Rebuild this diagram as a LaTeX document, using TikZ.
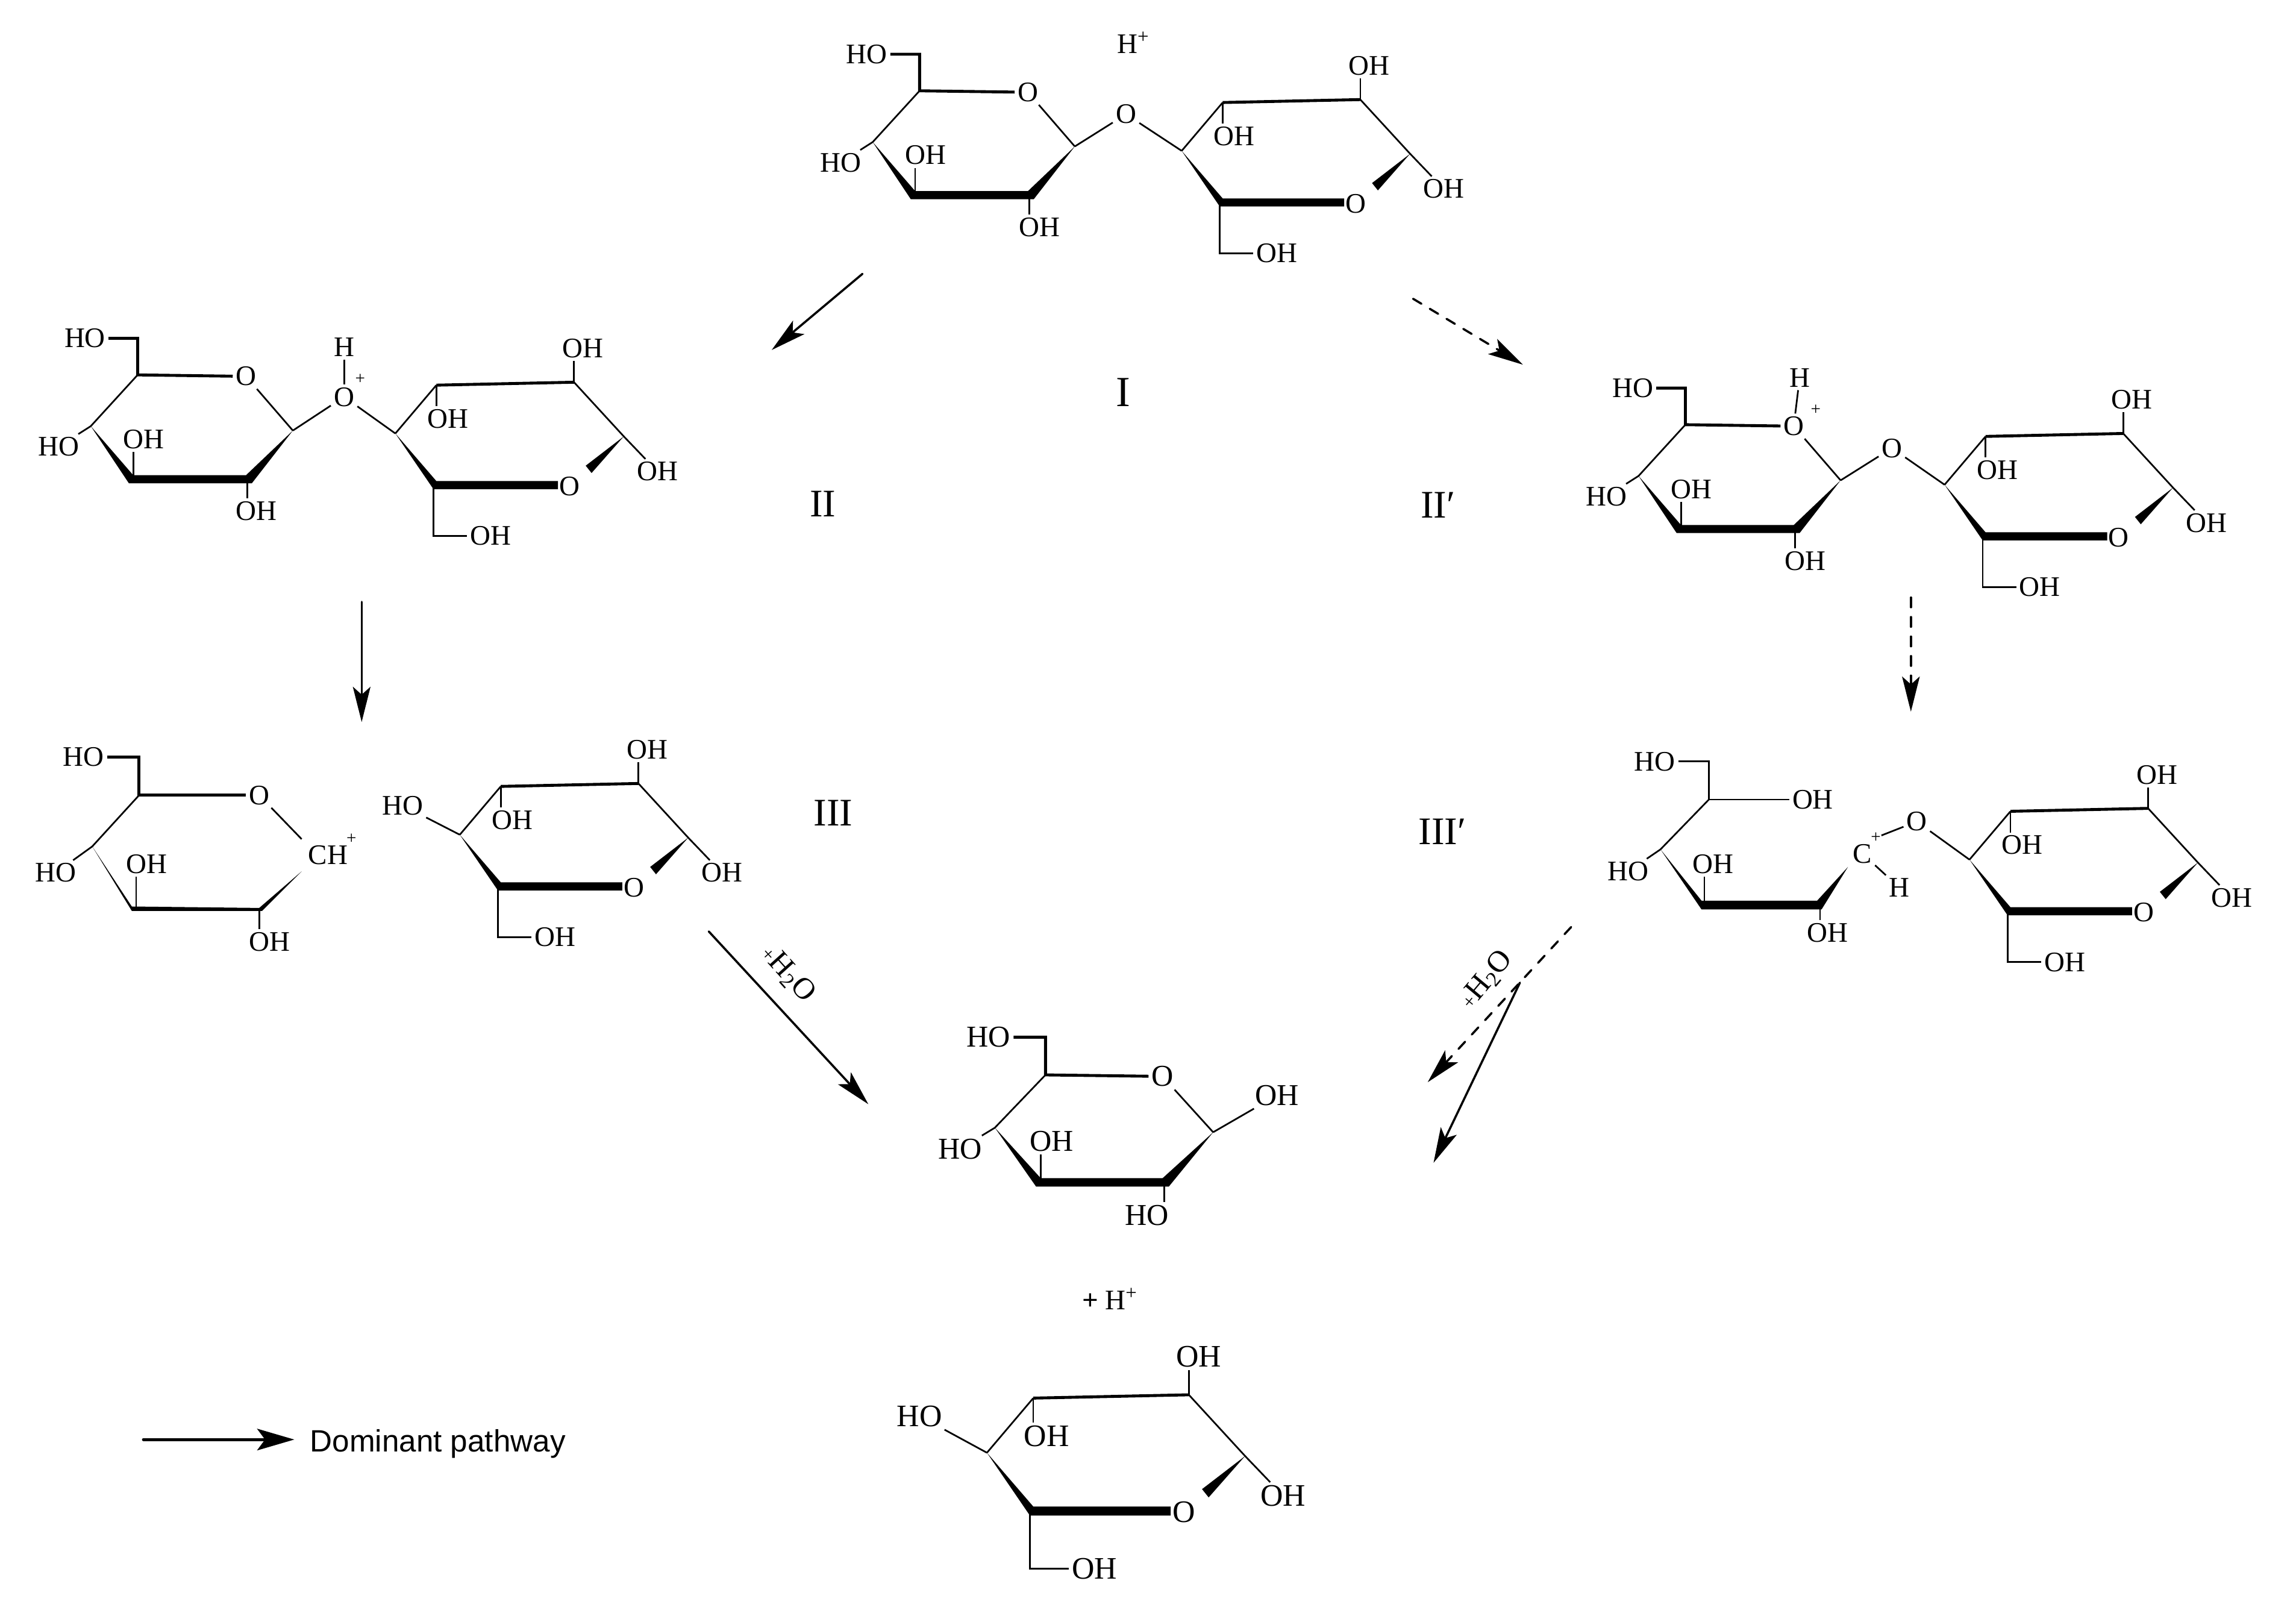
\documentclass[tikz,border=0pt]{standalone}
\usepackage{fontspec}
\setmainfont{Liberation Serif}
\newfontfamily\legendfont{Liberation Sans}
\usetikzlibrary{arrows.meta}

\tikzset{every picture/.style={line width=0.75pt}}
\tikzset{
	every pic/.style={yscale=-1},
	atom/.style={inner sep=1.2pt,font=\fontsize{14.5}{16}\selectfont},
	tag/.style={inner sep=0pt,font=\fontsize{20}{22}\selectfont},
	charge/.style={inner sep=0pt,font=\fontsize{9}{10}\selectfont},
	water/.style={inner sep=0pt,font=\fontsize{15.5}{17}\selectfont},
	bond/.style={line width=0.85pt},
	backbond/.style={line width=1.5pt},
	react/.style={line width=1.1pt,line cap=round,-{Stealth[length=18pt,width=9pt,inset=4pt]}},
	minor/.style={react,dash pattern=on 5pt off 5pt},
	%Ring with the exocyclic oxygen at its right, origin on the CH2OH carbon
	pics/leftring/.style 2 args={code={
		\coordinate (C5) at (0,0);
		\coordinate (C4) at (-32,35);
		\coordinate (C3) at (-3,72);
		\coordinate (C2) at (75,72);
		\coordinate (C1) at (106,38);
		\node [atom] (O) at (74,1) {O};
		\node [atom] (HOf) at (-36,-25) {HO};
		\node [atom] (HOd) at (-54,49) {HO};
		\node [atom] (OHc) at (4,44) {OH};
		\node [atom] (OHb) at (#2,93) {#1};
		\fill (C4) -- (-3,68.5) -- (74,68.5) -- (C1) -- (78,74) -- (-6,74) -- cycle;
		\draw [backbond] (HOf) -| (C5) -- (O);
		\draw [bond] (O) -- (C1) (C5) -- (C4) (C4) -- (HOd);
		\draw [bond] (C3) -- (C3 |- OHc.south);
		\draw [bond] (C2) -- (C2 |- OHb.north);
	}},
	%Ring with the exocyclic oxygen at its left, origin on the carbon that carries it
	pics/rightring/.style={code={
		\coordinate (C4) at (0,0);
		\coordinate (C3) at (28,-33);
		\coordinate (C2) at (122,-35);
		\coordinate (C1) at (156,2);
		\coordinate (C5) at (26,36);
		\node [atom] (O) at (119,36) {O};
		\node [atom] (OHb) at (128,-58) {OH};
		\node [atom] (OHc) at (36,-10) {OH};
		\node [atom] (OHa) at (179,26) {OH};
		\node [atom] (OHf) at (65,70) {OH};
		\fill (C4) -- (28,32.5) -- (111,32.5) -- (111,38) -- (26,38) -- cycle;
		\fill (C1) -- (130,22) -- (134,27) -- cycle;
		\draw [bond] (C4) -- (C3) (C2) -- (C1) (C1) -- (OHa);
		\draw [backbond] (C3) -- (C2);
		\draw [bond] (C2) -- (C2 |- OHb.south);
		\draw [bond] (C3) -- (C3 |- OHc.north);
		\draw [bond] (C5) |- (OHf);
	}}
}

\begin{document}
\begin{tikzpicture}[x=0.75pt,y=0.75pt,yscale=-1,xscale=1]
	\useasboundingbox (0,0) rectangle (1568,1107.2);

	%Molecule I
	\pic (Ia) at (628,62) {leftring={OH}{82}};
	\pic (Ib) at (807,103) {rightring};
	\node [atom] (Io) at (769,78) {O};
	\draw [bond] (IaC1) -- (Io) -- (IbC4);
	% Text Node
	\node [atom] (Iacid) at (774,29) {H\textsuperscript{+}};
	% Text Node
	\node [tag,font=\fontsize{22}{24}\selectfont] (Itag) at (767,268) {I};

	%Molecule II
	\pic (IIa) at (94,256) {leftring={OH}{81}};
	\pic (IIb) at (270,296) {rightring};
	\node [atom] (IIo) at (235,271) {O};
	\node [atom] (IIh) at (235,237) {H};
	\node [charge] (IIplus) at (246,259) {+};
	\draw [bond] (IIaC1) -- (IIo) -- (IIbC4);
	\draw [bond] (IIo) -- (IIh);
	% Text Node
	\node [tag] (IItag) at (562,344) {II};

	%Molecule II prime
	\pic (Pa) at (1151,290) {leftring={OH}{82}};
	\pic (Pb) at (1328,331) {rightring};
	\node [atom] (Po) at (1292,306) {O};
	\node [atom] (Ph) at (1229,258) {H};
	\node [charge] (Pplus) at (1240,280) {+};
	\draw [bond] (PaC1) -- (Po) -- (PbC4);
	\draw [bond] (PaO) -- (Ph);
	% Text Node
	\node [tag] (Ptag) at (982,345) {II′};

	%Molecule III, left part
	\coordinate (TaC5) at (95,543);
	\coordinate (TaC4) at (63,578);
	\coordinate (TaC3) at (93,620);
	\coordinate (TaC2) at (177,620);
	\coordinate (TaCa) at (206,573);
	\coordinate (TaCb) at (206,595);
	\node [atom] (TaO) at (177,543) {O};
	\node [atom] (TaHOf) at (57,517) {HO};
	\node [atom] (TaHOd) at (38,596) {HO};
	\node [atom] (TaOHc) at (100,590) {OH};
	\node [atom] (TaOHb) at (184,643) {OH};
	\node [atom] (TaCH) at (224,584) {CH};
	\node [charge] (TaPlus) at (240,573) {+};
	\fill (TaC4) -- (90,619) -- (TaC2) -- (TaCb) -- (179,622) -- (90,622) -- cycle;
	\draw [backbond] (TaHOf) -| (TaC5) -- (TaO);
	\draw [bond] (TaO) -- (TaCa) (TaC5) -- (TaC4) (TaC4) -- (TaHOd);
	\draw [bond] (TaC3) -- (TaC3 |- TaOHc.south);
	\draw [bond] (TaC2) -- (TaC2 |- TaOHb.north);

	%Molecule III, right part
	\pic (Tb) at (314,570) {rightring};
	\node [atom] (Tbhod) at (275,550) {HO};
	\draw [bond] (TbC4) -- (Tbhod);
	% Text Node
	\node [tag] (Ttag) at (569,555) {III};

	%Molecule III prime, left part
	\coordinate (QaC5) at (1167,546);
	\coordinate (QaC4) at (1134,580);
	\coordinate (QaC3) at (1164,618);
	\coordinate (QaC2) at (1243,618);
	\coordinate (QaCb) at (1262,592);
	\node [atom] (QaHOf) at (1130,520) {HO};
	\node [atom] (QaOHe) at (1238,546) {OH};
	\node [atom] (QaHOd) at (1112,595) {HO};
	\node [atom] (QaOHc) at (1170,590) {OH};
	\node [atom] (QaOHb) at (1248,637) {OH};
	\fill (QaC4) -- (1162,615) -- (1241,615) -- (QaCb) -- (1244,621) -- (1162,621) -- cycle;
	\draw [bond] (QaHOf) -| (QaC5) -- (QaOHe);
	\draw [bond] (QaC5) -- (QaC4) (QaC4) -- (QaHOd);
	\draw [bond] (QaC3) -- (QaC3 |- QaOHc.south);
	\draw [bond] (QaC2) -- (QaC2 |- QaOHb.north);

	%Molecule III prime, right part
	\pic (Qb) at (1345,587) {rightring};
	\node [atom] (Qo) at (1309,561) {O};
	\node [atom] (Qc) at (1272,583) {C};
	\node [charge] (Qplus) at (1281,572) {+};
	\node [atom] (Qh) at (1297,606) {H};
	\draw [bond] (Qplus) -- (Qo) -- (QbC4);
	\draw [bond] (Qc) -- (Qh);
	% Text Node
	\node [tag] (Qtag) at (985,568) {III′};

	%Products
	\pic (Da) [xscale=1.08,yscale=1.03,atom/.append style={font=\fontsize{15.5}{17}\selectfont}] at (714,734) {leftring={HO}{64}};
	\node [atom,font=\fontsize{15.5}{17}\selectfont] (Daoh) at (872,748) {OH};
	\draw [bond] (DaC1) -- (Daoh);
	% Text Node
	\node [atom] (Dacid) at (758,887) {\textbf{+} H\textsuperscript{+}};
	\pic (Db) [scale=1.13,atom/.append style={font=\fontsize{16}{17}\selectfont}] at (674,992) {rightring};
	\node [atom,font=\fontsize{16}{17}\selectfont] (Dbhod) at (628,967) {HO};
	\draw [bond] (DbC4) -- (Dbhod);

	%Arrows
	\coordinate (aIs) at (589,187);
	\coordinate (aIe) at (527,239);
	\coordinate (aPs) at (965,204);
	\coordinate (aPe) at (1040,249);
	\coordinate (aIIs) at (247,411);
	\coordinate (aIIe) at (247,493);
	\coordinate (aQs) at (1305,408);
	\coordinate (aQe) at (1305,486);
	\coordinate (aTs) at (484,636);
	\coordinate (aTe) at (593,754);
	\coordinate (aUs) at (1073,633);
	\coordinate (aUe) at (975,739);
	\coordinate (aVs) at (1038,671);
	\coordinate (aVe) at (979,794);
	\draw [react] (aIs) -- (aIe);
	\draw [minor] (aPs) -- (aPe);
	\draw [react] (aIIs) -- (aIIe);
	\draw [minor] (aQs) -- (aQe);
	\draw [react] (aTs) -- (aTe);
	\draw [minor] (aUs) -- (aUe);
	\draw [react] (aVs) -- (aVe);
	% Text Node
	\node [water,rotate=-48] (Tw) at (538,665) {{\fontsize{10}{10}\selectfont +}H\textsubscript{2}O};
	% Text Node
	\node [water,rotate=50] (Qw) at (1015,669) {{\fontsize{10}{10}\selectfont +}H\textsubscript{2}O};

	%Legend
	\coordinate (keyS) at (98,983);
	\coordinate (keyE) at (201,983);
	\draw [line width=1.6pt,line cap=round,-{Stealth[length=19pt,width=11pt,inset=4pt]}] (keyS) -- (keyE);
	% Text Node
	\node [inner sep=0pt,font=\legendfont\fontsize{15.8}{17}\selectfont] (keyT) at (299,986) {Dominant pathway};

\end{tikzpicture}
\end{document}
